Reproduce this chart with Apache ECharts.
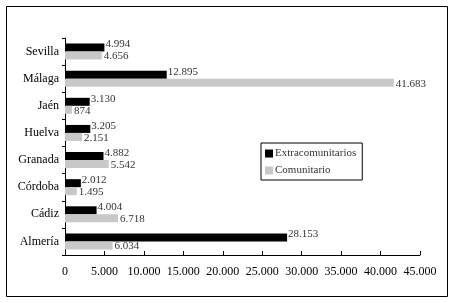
<!DOCTYPE html>
<html><head><meta charset="utf-8">
<script src="https://cdn.jsdelivr.net/npm/echarts@6/dist/echarts.min.js"></script>
<style>html,body{margin:0;padding:0;background:#fff}#c{width:453px;height:303px}</style>
</head><body><div id="c"></div>
<script>
var categories = ['Sevilla','Málaga','Jaén','Huelva','Granada','Córdoba','Cádiz','Almería'];
var extracomunitarios = [4994,12895,3130,3205,4882,2012,4004,28153];
var comunitario = [4656,41683,874,2151,5542,1495,6718,6034];
var xTicks = [0,5000,10000,15000,20000,25000,30000,35000,40000,45000];

function fmt(v){ return String(Math.round(v)).replace(/\B(?=(\d{3})+(?!\d))/g,'.'); }
var FONT = '"Liberation Serif", "DejaVu Serif", serif';
var chart = echarts.init(document.getElementById('c'));
chart.setOption({
  animation:false,
  textStyle:{fontFamily:FONT},
  graphic:[{type:'rect',shape:{x:6.5,y:6.5,width:441,height:290},style:{fill:'none',stroke:'#000',lineWidth:1}}],
  grid:{left:65,right:33,top:38,bottom:48,containLabel:false},
  legend:{
    orient:'vertical',left:261,top:143,
    itemWidth:8,itemHeight:8,itemGap:6,
    padding:[5,6,4,4],
    borderColor:'#000',borderWidth:1,
    icon:'rect',
    textStyle:{fontFamily:FONT,fontSize:11,color:'#333',padding:[0,0,0,-3]},
    data:['Extracomunitarios','Comunitario']
  },
  xAxis:{
    type:'value',min:xTicks[0],max:xTicks[xTicks.length-1],interval:5000,
    axisLine:{show:true,lineStyle:{color:'#000'}},
    axisTick:{show:true,inside:true,length:4,lineStyle:{color:'#000'}},
    splitLine:{show:false},
    axisLabel:{fontFamily:FONT,fontSize:12,color:'#000',margin:11,formatter:fmt}
  },
  yAxis:{
    type:'category',data:categories,inverse:true,
    axisLine:{show:true,lineStyle:{color:'#000'}},
    axisTick:{show:true,length:3,lineStyle:{color:'#000'}},
    axisLabel:{fontFamily:FONT,fontSize:12,color:'#000',margin:6}
  },
  series:[
    {name:'Extracomunitarios',type:'bar',data:extracomunitarios,barWidth:8,barGap:'0%',
     itemStyle:{color:'#000'},
     label:{show:true,position:'right',distance:1,offset:[0,-3],fontFamily:FONT,fontSize:11,color:'#333',formatter:function(p){return fmt(p.value);}}},
    {name:'Comunitario',type:'bar',data:comunitario,barWidth:8,
     itemStyle:{color:'#c8c8c8'},
     label:{show:true,position:'right',distance:2,offset:[0,1],fontFamily:FONT,fontSize:11,color:'#333',formatter:function(p){return fmt(p.value);}}}
  ]
});
</script></body></html>
